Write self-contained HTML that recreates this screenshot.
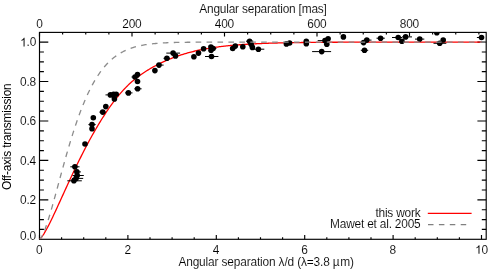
<!DOCTYPE html><html><head><meta charset="utf-8"><style>html,body{margin:0;padding:0;background:#fff;}svg{display:block;will-change:transform;}text{font-family:"Liberation Sans",sans-serif;fill:#000;letter-spacing:-0.2px;stroke:#fff;stroke-width:0.1px;paint-order:fill stroke;}</style></head><body>
<svg width="491" height="272" viewBox="0 0 491 272">
<rect width="491" height="272" fill="#fff"/>
<defs><clipPath id="c"><rect x="39.5" y="32.4" width="446.7" height="206.9"/></clipPath></defs>
<rect x="39.5" y="32.4" width="446.7" height="206.9" fill="none" stroke="#000" stroke-width="1.15"/>
<path d="M39.50,239.3 v-4.2 M61.60,239.3 v-2.1 M83.70,239.3 v-2.1 M105.80,239.3 v-2.1 M127.90,239.3 v-4.2 M150.00,239.3 v-2.1 M172.10,239.3 v-2.1 M194.20,239.3 v-2.1 M216.30,239.3 v-4.2 M238.40,239.3 v-2.1 M260.50,239.3 v-2.1 M282.60,239.3 v-2.1 M304.70,239.3 v-4.2 M326.80,239.3 v-2.1 M348.90,239.3 v-2.1 M371.00,239.3 v-2.1 M393.10,239.3 v-4.2 M415.20,239.3 v-2.1 M437.30,239.3 v-2.1 M459.40,239.3 v-2.1 M481.50,239.3 v-4.2 M39.50,32.4 v4.2 M62.62,32.4 v2.1 M85.75,32.4 v2.1 M108.88,32.4 v2.1 M132.00,32.4 v4.2 M155.12,32.4 v2.1 M178.25,32.4 v2.1 M201.38,32.4 v2.1 M224.50,32.4 v4.2 M247.62,32.4 v2.1 M270.75,32.4 v2.1 M293.88,32.4 v2.1 M317.00,32.4 v4.2 M340.12,32.4 v2.1 M363.25,32.4 v2.1 M386.38,32.4 v2.1 M409.50,32.4 v4.2 M432.62,32.4 v2.1 M455.75,32.4 v2.1 M478.88,32.4 v2.1 M39.5,229.44 h4.4 M486.2,229.44 h-4.4 M39.5,219.58 h4.4 M486.2,219.58 h-4.4 M39.5,209.72 h4.4 M486.2,209.72 h-4.4 M39.5,199.86 h8.8 M486.2,199.86 h-8.8 M39.5,190.00 h4.4 M486.2,190.00 h-4.4 M39.5,180.14 h4.4 M486.2,180.14 h-4.4 M39.5,170.28 h4.4 M486.2,170.28 h-4.4 M39.5,160.42 h8.8 M486.2,160.42 h-8.8 M39.5,150.56 h4.4 M486.2,150.56 h-4.4 M39.5,140.70 h4.4 M486.2,140.70 h-4.4 M39.5,130.84 h4.4 M486.2,130.84 h-4.4 M39.5,120.98 h8.8 M486.2,120.98 h-8.8 M39.5,111.12 h4.4 M486.2,111.12 h-4.4 M39.5,101.26 h4.4 M486.2,101.26 h-4.4 M39.5,91.40 h4.4 M486.2,91.40 h-4.4 M39.5,81.54 h8.8 M486.2,81.54 h-8.8 M39.5,71.68 h4.4 M486.2,71.68 h-4.4 M39.5,61.82 h4.4 M486.2,61.82 h-4.4 M39.5,51.96 h4.4 M486.2,51.96 h-4.4 M39.5,42.10 h8.8 M486.2,42.10 h-8.8" fill="none" stroke="#000" stroke-width="1.15"/>
<g clip-path="url(#c)">
<path d="M39.50,239.30 L40.60,238.40 L41.71,237.07 L42.81,235.51 L43.92,233.79 L45.02,231.95 L46.13,230.00 L47.23,227.96 L48.34,225.86 L49.45,223.69 L50.55,221.47 L51.66,219.21 L52.76,216.91 L53.87,214.58 L54.97,212.23 L56.08,209.86 L57.18,207.46 L58.28,205.06 L59.39,202.64 L60.50,200.22 L61.60,197.80 L62.70,195.37 L63.81,192.95 L64.91,190.53 L66.02,188.11 L67.12,185.70 L68.23,183.30 L69.34,180.91 L70.44,178.53 L71.55,176.17 L72.65,173.82 L73.75,171.48 L74.86,169.17 L75.97,166.86 L77.07,164.58 L78.18,162.32 L79.28,160.07 L80.39,157.85 L81.49,155.64 L82.59,153.46 L83.70,151.29 L84.81,149.15 L85.91,147.03 L87.02,144.94 L88.12,142.86 L89.22,140.81 L90.33,138.78 L91.44,136.77 L92.54,134.79 L93.65,132.83 L94.75,130.89 L95.85,128.98 L96.96,127.09 L98.06,125.23 L99.17,123.39 L100.28,121.57 L101.38,119.78 L102.49,118.02 L103.59,116.28 L104.70,114.57 L105.80,112.89 L106.91,111.23 L108.01,109.60 L109.12,108.00 L110.22,106.43 L111.33,104.88 L112.43,103.37 L113.54,101.88 L114.64,100.43 L115.75,99.01 L116.85,97.62 L117.95,96.25 L119.06,94.92 L120.17,93.62 L121.27,92.36 L122.38,91.12 L123.48,89.92 L124.59,88.74 L125.69,87.60 L126.80,86.48 L127.90,85.40 L129.00,84.34 L130.11,83.32 L131.22,82.32 L132.32,81.35 L133.43,80.40 L134.53,79.48 L135.63,78.59 L136.74,77.72 L137.85,76.87 L138.95,76.04 L140.06,75.24 L141.16,74.45 L142.27,73.68 L143.37,72.93 L144.48,72.20 L145.58,71.49 L146.69,70.79 L147.79,70.11 L148.90,69.44 L150.00,68.79 L151.11,68.15 L152.21,67.52 L153.31,66.90 L154.42,66.30 L155.53,65.71 L156.63,65.13 L157.74,64.56 L158.84,64.00 L159.94,63.46 L161.05,62.92 L162.16,62.39 L163.26,61.88 L164.37,61.37 L165.47,60.88 L166.57,60.39 L167.68,59.92 L168.78,59.45 L169.89,59.00 L171.00,58.55 L172.10,58.12 L173.21,57.69 L174.31,57.27 L175.42,56.87 L176.52,56.47 L177.62,56.08 L178.73,55.70 L179.84,55.33 L180.94,54.96 L182.05,54.61 L183.15,54.26 L184.25,53.93 L185.36,53.60 L186.47,53.28 L187.57,52.96 L188.68,52.66 L189.78,52.36 L190.88,52.07 L191.99,51.79 L193.10,51.52 L194.20,51.25 L195.31,50.99 L196.41,50.73 L197.52,50.49 L198.62,50.25 L199.73,50.01 L200.83,49.78 L201.94,49.56 L203.04,49.35 L204.15,49.14 L205.25,48.93 L206.36,48.73 L207.46,48.54 L208.57,48.35 L209.67,48.17 L210.78,47.99 L211.88,47.82 L212.99,47.65 L214.09,47.48 L215.20,47.32 L216.30,47.17 L217.41,47.02 L218.51,46.87 L219.62,46.73 L220.72,46.59 L221.83,46.46 L222.93,46.32 L224.03,46.20 L225.14,46.07 L226.25,45.95 L227.35,45.84 L228.46,45.72 L229.56,45.61 L230.67,45.51 L231.77,45.40 L232.88,45.30 L233.98,45.20 L235.09,45.11 L236.19,45.02 L237.29,44.93 L238.40,44.84 L239.51,44.76 L240.61,44.67 L241.72,44.59 L242.82,44.52 L243.93,44.44 L245.03,44.37 L246.14,44.30 L247.24,44.23 L248.34,44.16 L249.45,44.10 L250.56,44.04 L251.66,43.97 L252.77,43.92 L253.87,43.86 L254.98,43.80 L256.08,43.75 L257.19,43.70 L258.29,43.65 L259.39,43.60 L260.50,43.55 L261.61,43.50 L262.71,43.46 L263.82,43.41 L264.92,43.37 L266.02,43.33 L267.13,43.29 L268.24,43.25 L269.34,43.22 L270.44,43.18 L271.55,43.15 L272.66,43.11 L273.76,43.08 L274.87,43.05 L275.97,43.02 L277.08,42.99 L278.18,42.96 L279.28,42.93 L280.39,42.90 L281.50,42.88 L282.60,42.85 L283.71,42.83 L284.81,42.80 L285.92,42.78 L287.02,42.76 L288.12,42.74 L289.23,42.71 L290.34,42.69 L291.44,42.67 L292.54,42.65 L293.65,42.64 L294.75,42.62 L295.86,42.60 L296.97,42.58 L298.07,42.57 L299.18,42.55 L300.28,42.54 L301.38,42.52 L302.49,42.51 L303.60,42.49 L304.70,42.48 L305.81,42.47 L306.91,42.46 L308.02,42.44 L309.12,42.43 L310.23,42.42 L311.33,42.41 L312.44,42.40 L313.54,42.39 L314.64,42.38 L315.75,42.37 L316.86,42.36 L317.96,42.35 L319.06,42.34 L320.17,42.33 L321.28,42.33 L322.38,42.32 L323.49,42.31 L324.59,42.30 L325.69,42.30 L326.80,42.29 L327.91,42.28 L329.01,42.28 L330.12,42.27 L331.22,42.27 L332.33,42.26 L333.43,42.25 L334.54,42.25 L335.64,42.24 L336.75,42.24 L337.85,42.23 L338.96,42.23 L340.06,42.22 L341.17,42.22 L342.27,42.22 L343.38,42.21 L344.48,42.21 L345.59,42.20 L346.69,42.20 L347.80,42.20 L348.90,42.19 L350.01,42.19 L351.11,42.19 L352.22,42.18 L353.32,42.18 L354.43,42.18 L355.53,42.18 L356.63,42.17 L357.74,42.17 L358.85,42.17 L359.95,42.17 L361.06,42.16 L362.16,42.16 L363.27,42.16 L364.37,42.16 L365.48,42.15 L366.58,42.15 L367.69,42.15 L368.79,42.15 L369.89,42.15 L371.00,42.15 L372.11,42.14 L373.21,42.14 L374.32,42.14 L375.42,42.14 L376.53,42.14 L377.63,42.14 L378.74,42.13 L379.84,42.13 L380.94,42.13 L382.05,42.13 L383.16,42.13 L384.26,42.13 L385.37,42.13 L386.47,42.13 L387.58,42.13 L388.68,42.12 L389.79,42.12 L390.89,42.12 L392.00,42.12 L393.10,42.12 L394.21,42.12 L395.31,42.12 L396.41,42.12 L397.52,42.12 L398.62,42.12 L399.73,42.12 L400.84,42.12 L401.94,42.12 L403.05,42.12 L404.15,42.11 L405.26,42.11 L406.36,42.11 L407.46,42.11 L408.57,42.11 L409.68,42.11 L410.78,42.11 L411.89,42.11 L412.99,42.11 L414.10,42.11 L415.20,42.11 L416.31,42.11 L417.41,42.11 L418.51,42.11 L419.62,42.11 L420.73,42.11 L421.83,42.11 L422.94,42.11 L424.04,42.11 L425.14,42.11 L426.25,42.11 L427.36,42.11 L428.46,42.11 L429.56,42.11 L430.67,42.11 L431.78,42.11 L432.88,42.11 L433.99,42.11 L435.09,42.10 L436.19,42.10 L437.30,42.10 L438.41,42.10 L439.51,42.10 L440.62,42.10 L441.72,42.10 L442.83,42.10 L443.93,42.10 L445.04,42.10 L446.14,42.10 L447.25,42.10 L448.35,42.10 L449.46,42.10 L450.56,42.10 L451.67,42.10 L452.77,42.10 L453.88,42.10 L454.98,42.10 L456.09,42.10 L457.19,42.10 L458.30,42.10 L459.40,42.10 L460.51,42.10 L461.61,42.10 L462.71,42.10 L463.82,42.10 L464.93,42.10 L466.03,42.10 L467.14,42.10 L468.24,42.10 L469.35,42.10 L470.45,42.10 L471.56,42.10 L472.66,42.10 L473.76,42.10 L474.87,42.10 L475.98,42.10 L477.08,42.10 L478.19,42.10 L479.29,42.10 L480.40,42.10 L481.50,42.10" fill="none" stroke="#ff0000" stroke-width="1.3"/>
<line x1="70.3" y1="166.8" x2="79.5" y2="166.8" stroke="#000" stroke-width="1"/>
<line x1="73.5" y1="171.9" x2="80.9" y2="171.9" stroke="#000" stroke-width="1"/>
<line x1="72.6" y1="175.5" x2="83.8" y2="175.5" stroke="#000" stroke-width="1"/>
<line x1="72" y1="178.4" x2="83.2" y2="178.4" stroke="#000" stroke-width="1"/>
<line x1="67.3" y1="180.8" x2="81.8" y2="180.8" stroke="#000" stroke-width="1"/>
<line x1="131.5" y1="77.0" x2="139" y2="77.0" stroke="#000" stroke-width="1"/>
<line x1="134.3" y1="88.8" x2="141.6" y2="88.8" stroke="#000" stroke-width="1"/>
<line x1="125" y1="92.9" x2="132.5" y2="92.9" stroke="#000" stroke-width="1"/>
<line x1="105.5" y1="94.9" x2="119.0" y2="94.9" stroke="#000" stroke-width="1"/>
<line x1="99.4" y1="112.1" x2="106" y2="112.1" stroke="#000" stroke-width="1"/>
<line x1="88.4" y1="124.6" x2="95.7" y2="124.6" stroke="#000" stroke-width="1"/>
<line x1="156" y1="65.1" x2="163.6" y2="65.1" stroke="#000" stroke-width="1"/>
<line x1="163.5" y1="58.3" x2="170" y2="58.3" stroke="#000" stroke-width="1"/>
<line x1="166.3" y1="53.1" x2="180.1" y2="53.1" stroke="#000" stroke-width="1"/>
<line x1="209.5" y1="48.5" x2="216.4" y2="48.5" stroke="#000" stroke-width="1"/>
<line x1="205.0" y1="56.5" x2="218.4" y2="56.5" stroke="#000" stroke-width="1"/>
<line x1="246" y1="41.2" x2="253.3" y2="41.2" stroke="#000" stroke-width="1"/>
<line x1="253.3" y1="49.2" x2="264.3" y2="49.2" stroke="#000" stroke-width="1"/>
<line x1="317.7" y1="40.6" x2="329.6" y2="40.6" stroke="#000" stroke-width="1"/>
<line x1="312.1" y1="51.6" x2="331.1" y2="51.6" stroke="#000" stroke-width="1"/>
<line x1="360" y1="42.6" x2="366" y2="42.6" stroke="#000" stroke-width="1"/>
<line x1="364" y1="40.1" x2="371.5" y2="40.1" stroke="#000" stroke-width="1"/>
<line x1="360.8" y1="50.3" x2="368.2" y2="50.3" stroke="#000" stroke-width="1"/>
<line x1="376.5" y1="38.2" x2="384.8" y2="38.2" stroke="#000" stroke-width="1"/>
<line x1="392" y1="37.5" x2="402" y2="37.5" stroke="#000" stroke-width="1"/>
<line x1="402" y1="36.9" x2="412" y2="36.9" stroke="#000" stroke-width="1"/>
<line x1="415" y1="39.1" x2="424.3" y2="39.1" stroke="#000" stroke-width="1"/>
<line x1="433.5" y1="43.3" x2="446.3" y2="43.3" stroke="#000" stroke-width="1"/>
<line x1="476.9" y1="37.5" x2="483.8" y2="37.5" stroke="#000" stroke-width="1"/>
<circle cx="85.0" cy="144.0" r="2.8" fill="#000"/>
<circle cx="74.9" cy="166.8" r="2.8" fill="#000"/>
<circle cx="76.9" cy="171.9" r="2.8" fill="#000"/>
<circle cx="77.2" cy="175.5" r="2.8" fill="#000"/>
<circle cx="76.0" cy="178.4" r="2.8" fill="#000"/>
<circle cx="73.9" cy="180.8" r="2.8" fill="#000"/>
<circle cx="137.5" cy="74.5" r="2.8" fill="#000"/>
<circle cx="135.0" cy="77.0" r="2.8" fill="#000"/>
<circle cx="137.5" cy="81.5" r="2.8" fill="#000"/>
<circle cx="137.6" cy="88.8" r="2.8" fill="#000"/>
<circle cx="128.4" cy="92.9" r="2.8" fill="#000"/>
<circle cx="113.6" cy="94.3" r="2.8" fill="#000"/>
<circle cx="116.2" cy="94.2" r="2.8" fill="#000"/>
<circle cx="114.4" cy="98.9" r="2.8" fill="#000"/>
<circle cx="110.4" cy="94.9" r="2.8" fill="#000"/>
<circle cx="105.8" cy="106.6" r="2.8" fill="#000"/>
<circle cx="102.7" cy="112.1" r="2.8" fill="#000"/>
<circle cx="93.3" cy="117.7" r="2.8" fill="#000"/>
<circle cx="92.0" cy="124.6" r="2.8" fill="#000"/>
<circle cx="92.0" cy="128.7" r="2.8" fill="#000"/>
<circle cx="154.9" cy="70.6" r="2.8" fill="#000"/>
<circle cx="159.0" cy="65.1" r="2.8" fill="#000"/>
<circle cx="166.9" cy="58.3" r="2.8" fill="#000"/>
<circle cx="173.1" cy="53.1" r="2.8" fill="#000"/>
<circle cx="175.5" cy="55.9" r="2.8" fill="#000"/>
<circle cx="193.9" cy="56.8" r="2.8" fill="#000"/>
<circle cx="198.5" cy="53.1" r="2.8" fill="#000"/>
<circle cx="203.6" cy="48.7" r="2.8" fill="#000"/>
<circle cx="210.9" cy="47.0" r="2.8" fill="#000"/>
<circle cx="213.1" cy="48.5" r="2.8" fill="#000"/>
<circle cx="211.0" cy="50.3" r="2.8" fill="#000"/>
<circle cx="211.5" cy="56.5" r="2.8" fill="#000"/>
<circle cx="232.7" cy="48.5" r="2.8" fill="#000"/>
<circle cx="235.3" cy="46.1" r="2.8" fill="#000"/>
<circle cx="242.8" cy="46.7" r="2.8" fill="#000"/>
<circle cx="249.6" cy="41.2" r="2.8" fill="#000"/>
<circle cx="251.1" cy="44.3" r="2.8" fill="#000"/>
<circle cx="252.4" cy="47.4" r="2.8" fill="#000"/>
<circle cx="258.4" cy="49.2" r="2.8" fill="#000"/>
<circle cx="286.4" cy="43.9" r="2.8" fill="#000"/>
<circle cx="289.6" cy="43.0" r="2.8" fill="#000"/>
<circle cx="306.3" cy="41.2" r="2.8" fill="#000"/>
<circle cx="306.3" cy="43.7" r="2.8" fill="#000"/>
<circle cx="328.1" cy="38.8" r="2.8" fill="#000"/>
<circle cx="325.0" cy="40.6" r="2.8" fill="#000"/>
<circle cx="326.8" cy="44.3" r="2.8" fill="#000"/>
<circle cx="321.7" cy="51.6" r="2.8" fill="#000"/>
<circle cx="343.4" cy="36.9" r="2.8" fill="#000"/>
<circle cx="363.6" cy="42.6" r="2.8" fill="#000"/>
<circle cx="366.8" cy="40.1" r="2.8" fill="#000"/>
<circle cx="364.5" cy="50.3" r="2.8" fill="#000"/>
<circle cx="380.6" cy="38.2" r="2.8" fill="#000"/>
<circle cx="398.2" cy="37.5" r="2.8" fill="#000"/>
<circle cx="401.9" cy="41.2" r="2.8" fill="#000"/>
<circle cx="405.6" cy="36.9" r="2.8" fill="#000"/>
<circle cx="419.7" cy="39.1" r="2.8" fill="#000"/>
<circle cx="436.8" cy="32.8" r="2.8" fill="#000"/>
<circle cx="443.2" cy="40.0" r="2.8" fill="#000"/>
<circle cx="439.7" cy="43.3" r="2.8" fill="#000"/>
<circle cx="481.5" cy="37.5" r="2.8" fill="#000"/>
<path d="M39.50,239.30 L40.63,238.34 L41.75,236.61 L42.88,234.40 L44.01,231.83 L45.14,228.95 L46.26,225.82 L47.39,222.48 L48.52,218.96 L49.64,215.30 L50.77,211.51 L51.90,207.62 L53.03,203.64 L54.15,199.60 L55.28,195.51 L56.41,191.38 L57.53,187.23 L58.66,183.08 L59.79,178.92 L60.91,174.78 L62.04,170.66 L63.17,166.56 L64.30,162.51 L65.42,158.50 L66.55,154.54 L67.68,150.64 L68.80,146.79 L69.93,143.02 L71.06,139.31 L72.19,135.68 L73.31,132.13 L74.44,128.65 L75.57,125.26 L76.69,121.95 L77.82,118.72 L78.95,115.58 L80.08,112.53 L81.20,109.56 L82.33,106.69 L83.46,103.89 L84.58,101.19 L85.71,98.58 L86.84,96.04 L87.97,93.60 L89.09,91.24 L90.22,88.96 L91.35,86.77 L92.47,84.65 L93.60,82.62 L94.73,80.66 L95.85,78.78 L96.98,76.97 L98.11,75.24 L99.24,73.58 L100.36,71.98 L101.49,70.46 L102.62,69.00 L103.74,67.60 L104.87,66.26 L106.00,64.98 L107.13,63.76 L108.25,62.60 L109.38,61.49 L110.51,60.43 L111.63,59.42 L112.76,58.46 L113.89,57.55 L115.02,56.68 L116.14,55.86 L117.27,55.07 L118.40,54.33 L119.52,53.62 L120.65,52.95 L121.78,52.31 L122.91,51.71 L124.03,51.14 L125.16,50.60 L126.29,50.09 L127.41,49.61 L128.54,49.15 L129.67,48.72 L130.80,48.31 L131.92,47.93 L133.05,47.56 L134.18,47.22 L135.30,46.90 L136.43,46.59 L137.56,46.31 L138.68,46.04 L139.81,45.78 L140.94,45.54 L142.07,45.32 L143.19,45.11 L144.32,44.91 L145.45,44.72 L146.57,44.55 L147.70,44.39 L148.83,44.23 L149.96,44.09 L151.08,43.95 L152.21,43.83 L153.34,43.71 L154.46,43.60 L155.59,43.49 L156.72,43.40 L157.85,43.31 L158.97,43.22 L160.10,43.14 L161.23,43.07 L162.35,43.00 L163.48,42.94 L164.61,42.88 L165.74,42.82 L166.86,42.77 L167.99,42.72 L169.12,42.67 L170.24,42.63 L171.37,42.59 L172.50,42.56 L173.62,42.52 L174.75,42.49 L175.88,42.46 L177.01,42.44 L178.13,42.41 L179.26,42.39 L180.39,42.37 L181.51,42.34 L182.64,42.33 L183.77,42.31 L184.90,42.29 L186.02,42.28 L187.15,42.26 L188.28,42.25 L189.40,42.24 L190.53,42.23 L191.66,42.22 L192.79,42.21 L193.91,42.20 L195.04,42.19 L196.17,42.19 L197.29,42.18 L198.42,42.17 L199.55,42.17 L200.68,42.16 L201.80,42.16 L202.93,42.15 L204.06,42.15 L205.18,42.14 L206.31,42.14 L207.44,42.14 L208.57,42.13 L209.69,42.13 L210.82,42.13 L211.95,42.13 L213.07,42.12 L214.20,42.12 L215.33,42.12 L216.45,42.12 L217.58,42.12 L218.71,42.12 L219.84,42.11 L220.96,42.11 L222.09,42.11 L223.22,42.11 L224.34,42.11 L225.47,42.11 L226.60,42.11 L227.73,42.11 L228.85,42.11 L229.98,42.11 L231.11,42.11 L232.23,42.11 L233.36,42.10 L234.49,42.10 L235.62,42.10 L236.74,42.10 L237.87,42.10 L239.00,42.10 L240.12,42.10 L241.25,42.10 L242.38,42.10 L243.51,42.10 L244.63,42.10 L245.76,42.10 L246.89,42.10 L248.01,42.10 L249.14,42.10 L250.27,42.10 L251.39,42.10 L252.52,42.10 L253.65,42.10 L254.78,42.10 L255.90,42.10 L257.03,42.10 L258.16,42.10 L259.28,42.10 L260.41,42.10 L261.54,42.10 L262.67,42.10 L263.79,42.10 L264.92,42.10 L266.05,42.10 L267.17,42.10 L268.30,42.10 L269.43,42.10 L270.56,42.10 L271.68,42.10 L272.81,42.10 L273.94,42.10 L275.06,42.10 L276.19,42.10 L277.32,42.10 L278.45,42.10 L279.57,42.10 L280.70,42.10 L281.83,42.10 L282.95,42.10 L284.08,42.10 L285.21,42.10 L286.33,42.10 L287.46,42.10 L288.59,42.10 L289.72,42.10 L290.84,42.10 L291.97,42.10 L293.10,42.10 L294.22,42.10 L295.35,42.10 L296.48,42.10 L297.61,42.10 L298.73,42.10 L299.86,42.10 L300.99,42.10 L302.11,42.10 L303.24,42.10 L304.37,42.10 L305.50,42.10 L306.62,42.10 L307.75,42.10 L308.88,42.10 L310.00,42.10 L311.13,42.10 L312.26,42.10 L313.39,42.10 L314.51,42.10 L315.64,42.10 L316.77,42.10 L317.89,42.10 L319.02,42.10 L320.15,42.10 L321.28,42.10 L322.40,42.10 L323.53,42.10 L324.66,42.10 L325.78,42.10 L326.91,42.10 L328.04,42.10 L329.16,42.10 L330.29,42.10 L331.42,42.10 L332.55,42.10 L333.67,42.10 L334.80,42.10 L335.93,42.10 L337.05,42.10 L338.18,42.10 L339.31,42.10 L340.44,42.10 L341.56,42.10 L342.69,42.10 L343.82,42.10 L344.94,42.10 L346.07,42.10 L347.20,42.10 L348.33,42.10 L349.45,42.10 L350.58,42.10 L351.71,42.10 L352.83,42.10 L353.96,42.10 L355.09,42.10 L356.22,42.10 L357.34,42.10 L358.47,42.10 L359.60,42.10 L360.72,42.10 L361.85,42.10 L362.98,42.10 L364.10,42.10 L365.23,42.10 L366.36,42.10 L367.49,42.10 L368.61,42.10 L369.74,42.10 L370.87,42.10 L371.99,42.10 L373.12,42.10 L374.25,42.10 L375.38,42.10 L376.50,42.10 L377.63,42.10 L378.76,42.10 L379.88,42.10 L381.01,42.10 L382.14,42.10 L383.27,42.10 L384.39,42.10 L385.52,42.10 L386.65,42.10 L387.77,42.10 L388.90,42.10 L390.03,42.10 L391.16,42.10 L392.28,42.10 L393.41,42.10 L394.54,42.10 L395.66,42.10 L396.79,42.10 L397.92,42.10 L399.04,42.10 L400.17,42.10 L401.30,42.10 L402.43,42.10 L403.55,42.10 L404.68,42.10 L405.81,42.10 L406.93,42.10 L408.06,42.10 L409.19,42.10 L410.32,42.10 L411.44,42.10 L412.57,42.10 L413.70,42.10 L414.82,42.10 L415.95,42.10 L417.08,42.10 L418.21,42.10 L419.33,42.10 L420.46,42.10 L421.59,42.10 L422.71,42.10 L423.84,42.10 L424.97,42.10 L426.10,42.10 L427.22,42.10 L428.35,42.10 L429.48,42.10 L430.60,42.10 L431.73,42.10 L432.86,42.10 L433.98,42.10 L435.11,42.10 L436.24,42.10 L437.37,42.10 L438.49,42.10 L439.62,42.10 L440.75,42.10 L441.87,42.10 L443.00,42.10 L444.13,42.10 L445.26,42.10 L446.38,42.10 L447.51,42.10 L448.64,42.10 L449.76,42.10 L450.89,42.10 L452.02,42.10 L453.15,42.10 L454.27,42.10 L455.40,42.10 L456.53,42.10 L457.65,42.10 L458.78,42.10 L459.91,42.10 L461.04,42.10 L462.16,42.10 L463.29,42.10 L464.42,42.10 L465.54,42.10 L466.67,42.10 L467.80,42.10 L468.93,42.10 L470.05,42.10 L471.18,42.10 L472.31,42.10 L473.43,42.10 L474.56,42.10 L475.69,42.10 L476.81,42.10 L477.94,42.10 L479.07,42.10 L480.20,42.10 L481.32,42.10 L482.45,42.10 L483.58,42.10 L484.70,42.10 L485.83,42.10 L486.96,42.10 L488.09,42.10 L489.21,42.10 L490.34,42.10" fill="none" stroke="#8c8c8c" stroke-width="1.3" stroke-dasharray="5.6 5.33" stroke-dashoffset="0.6"/>
</g>
<text x="39.20" y="253.8" font-size="11.9" text-anchor="middle">0</text>
<text x="127.60" y="253.8" font-size="11.9" text-anchor="middle">2</text>
<text x="216.00" y="253.8" font-size="11.9" text-anchor="middle">4</text>
<text x="304.40" y="253.8" font-size="11.9" text-anchor="middle">6</text>
<text x="392.80" y="253.8" font-size="11.9" text-anchor="middle">8</text>
<path d="M763 0H583V1147Q518 1085 412.5 1023T223 930V1104Q373 1175 485.5 1275.5T645 1472H763Z" transform="translate(475.08,253.80) scale(0.00581,-0.00581)" fill="#000" stroke="#fff" stroke-width="17.2"/>
<text x="481.50" y="253.8" font-size="11.9">0</text>
<text x="39.40" y="28.3" font-size="11.9" text-anchor="middle">0</text>
<text x="131.90" y="28.3" font-size="11.9" text-anchor="middle">200</text>
<text x="224.40" y="28.3" font-size="11.9" text-anchor="middle">400</text>
<text x="316.90" y="28.3" font-size="11.9" text-anchor="middle">600</text>
<text x="409.40" y="28.3" font-size="11.9" text-anchor="middle">800</text>
<path d="M763 0H583V1147Q518 1085 412.5 1023T223 930V1104Q373 1175 485.5 1275.5T645 1472H763Z" transform="translate(20.16,46.40) scale(0.00581,-0.00581)" fill="#000" stroke="#fff" stroke-width="17.2"/>
<text x="26.58" y="46.40" font-size="11.9">.0</text>
<text x="36.0" y="239.50" font-size="11.9" text-anchor="end">0.0</text>
<text x="36.0" y="204.16" font-size="11.9" text-anchor="end">0.2</text>
<text x="36.0" y="164.72" font-size="11.9" text-anchor="end">0.4</text>
<text x="36.0" y="125.28" font-size="11.9" text-anchor="end">0.6</text>
<text x="36.0" y="85.84" font-size="11.9" text-anchor="end">0.8</text>
<text x="263" y="12.5" font-size="11.9" text-anchor="middle">Angular separation [mas]</text>
<text x="178.4" y="265.6" font-size="11.9" style="letter-spacing:-0.152px">Angular separation λ/d (λ=3.8 µ<tspan dx="0.8">m)</tspan></text>
<text transform="translate(11,136.8) rotate(-90)" font-size="11.9" text-anchor="middle" style="stroke:none">Off-axis transmission</text>
<text x="420.5" y="216.6" font-size="11.9" text-anchor="end">this work</text>
<text x="420.5" y="227.7" font-size="11.9" text-anchor="end">Mawet et al. 2005</text>
<line x1="427.8" y1="213.3" x2="471.6" y2="213.3" stroke="#ff0000" stroke-width="1.3"/>
<line x1="428" y1="224.7" x2="471" y2="224.7" stroke="#808080" stroke-width="1.25" stroke-dasharray="5.5 5.4"/>
</svg></body></html>
